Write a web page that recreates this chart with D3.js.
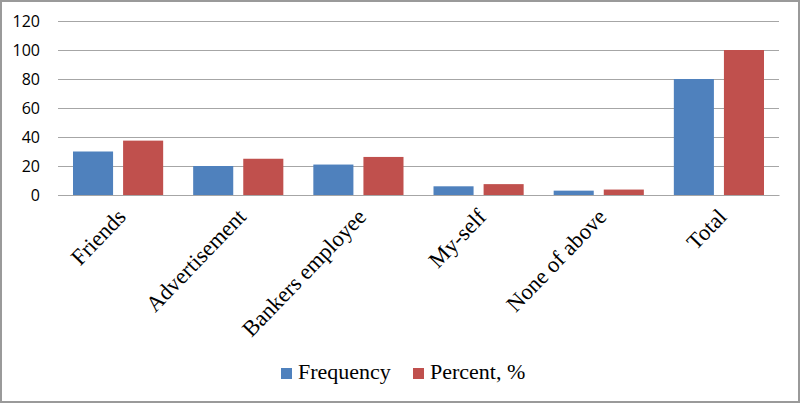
<!DOCTYPE html>
<html>
<head>
<meta charset="utf-8">
<script src="https://cdn.jsdelivr.net/npm/d3@7"></script>
<style>
  html, body { margin: 0; padding: 0; background: #fff; }
  #chart { width: 800px; height: 403px; }
</style>
</head>
<body>
<div id="chart"></div>
<script>
const categories = ['Friends', 'Advertisement', 'Bankers employee', 'My-self', 'None of above', 'Total']
const seriesNames = ['Frequency', 'Percent, %']
const frequency = [30, 20, 21, 6, 3, 80]
const percent = [37.5, 25, 26.25, 7.5, 3.75, 100]
const yTicks = [0, 20, 40, 60, 80, 100, 120]

const WIDTH = 800
const HEIGHT = 403
const MARGIN = { top: 21, right: 21, bottom: 208, left: 58 }
const COLORS = ['#4f81bd', '#c0504d']

const innerW = WIDTH - MARGIN.left - MARGIN.right
const innerH = HEIGHT - MARGIN.top - MARGIN.bottom

const rows = categories.map((c, i) => ({ category: c, values: [frequency[i], percent[i]] }))

const svg = d3.select('#chart')
  .append('svg')
  .attr('width', WIDTH)
  .attr('height', HEIGHT)

// outer frame
svg.append('rect')
  .attr('x', 1).attr('y', 1)
  .attr('width', WIDTH - 2).attr('height', HEIGHT - 2)
  .attr('fill', '#fff')
  .attr('stroke', '#9a9a9a')
  .attr('stroke-width', 2)

const g = svg.append('g')
  .attr('transform', `translate(${MARGIN.left},${MARGIN.top})`)

const x = d3.scaleBand()
  .domain(categories)
  .range([0, innerW])

const x1 = d3.scaleBand()
  .domain(seriesNames)
  .range([15, x.bandwidth() - 15])
  .paddingInner(0.2)

const y = d3.scaleLinear()
  .domain([0, 120])
  .range([innerH, 0])

// gridlines
g.append('g')
  .call(d3.axisLeft(y).tickValues(yTicks).tickSize(-innerW).tickFormat(''))
  .call(sel => sel.select('.domain').remove())
  .call(sel => sel.selectAll('.tick line')
    .attr('stroke', '#a6a6a6')
    .attr('stroke-width', 1.2))

// y axis labels
g.append('g')
  .call(d3.axisLeft(y).tickValues(yTicks).tickSize(0).tickPadding(18))
  .call(sel => sel.select('.domain').remove())
  .call(sel => sel.selectAll('.tick text')
    .style('font-size', '16px')
    .style('font-family', '"Open Sans", sans-serif')
    .style('fill', '#000'))

// bars
g.selectAll('.group')
  .data(rows)
  .enter()
  .append('g')
  .attr('class', 'group')
  .attr('transform', d => `translate(${x(d.category)},0)`)
  .selectAll('rect')
  .data(d => d.values.map((v, i) => ({ series: seriesNames[i], value: v, i })))
  .enter()
  .append('rect')
  .attr('x', d => x1(d.series))
  .attr('width', x1.bandwidth())
  .attr('y', d => y(d.value))
  .attr('height', d => innerH - y(d.value))
  .attr('fill', d => COLORS[d.i])

// x axis
g.append('g')
  .attr('transform', `translate(0,${innerH})`)
  .call(d3.axisBottom(x).tickSize(0).tickPadding(0))
  .call(sel => sel.select('.domain')
    .attr('stroke', '#a6a6a6')
    .attr('stroke-width', 1.2))
  .call(sel => sel.selectAll('.tick text')
    .attr('text-anchor', 'end')
    .attr('dy', null)
    .attr('y', 0)
    .attr('transform', 'translate(9,23) rotate(-46)')
    .style('font-size', '22.5px')
    .style('font-family', '"Liberation Serif", "Times New Roman", serif')
    .style('fill', '#000'))

// legend
const legendItems = [
  { name: seriesNames[0], x: 281, color: COLORS[0] },
  { name: seriesNames[1], x: 413, color: COLORS[1] }
]
const legend = svg.append('g')
  .selectAll('g')
  .data(legendItems)
  .enter()
  .append('g')
  .attr('transform', d => `translate(${d.x},368)`)

legend.append('rect')
  .attr('width', 11).attr('height', 11)
  .attr('fill', d => d.color)

legend.append('text')
  .attr('x', 17).attr('y', 11)
  .text(d => d.name)
  .style('font-size', '22px')
  .style('font-family', '"Liberation Serif", "Times New Roman", serif')
  .style('fill', '#000')
</script>
</body>
</html>
